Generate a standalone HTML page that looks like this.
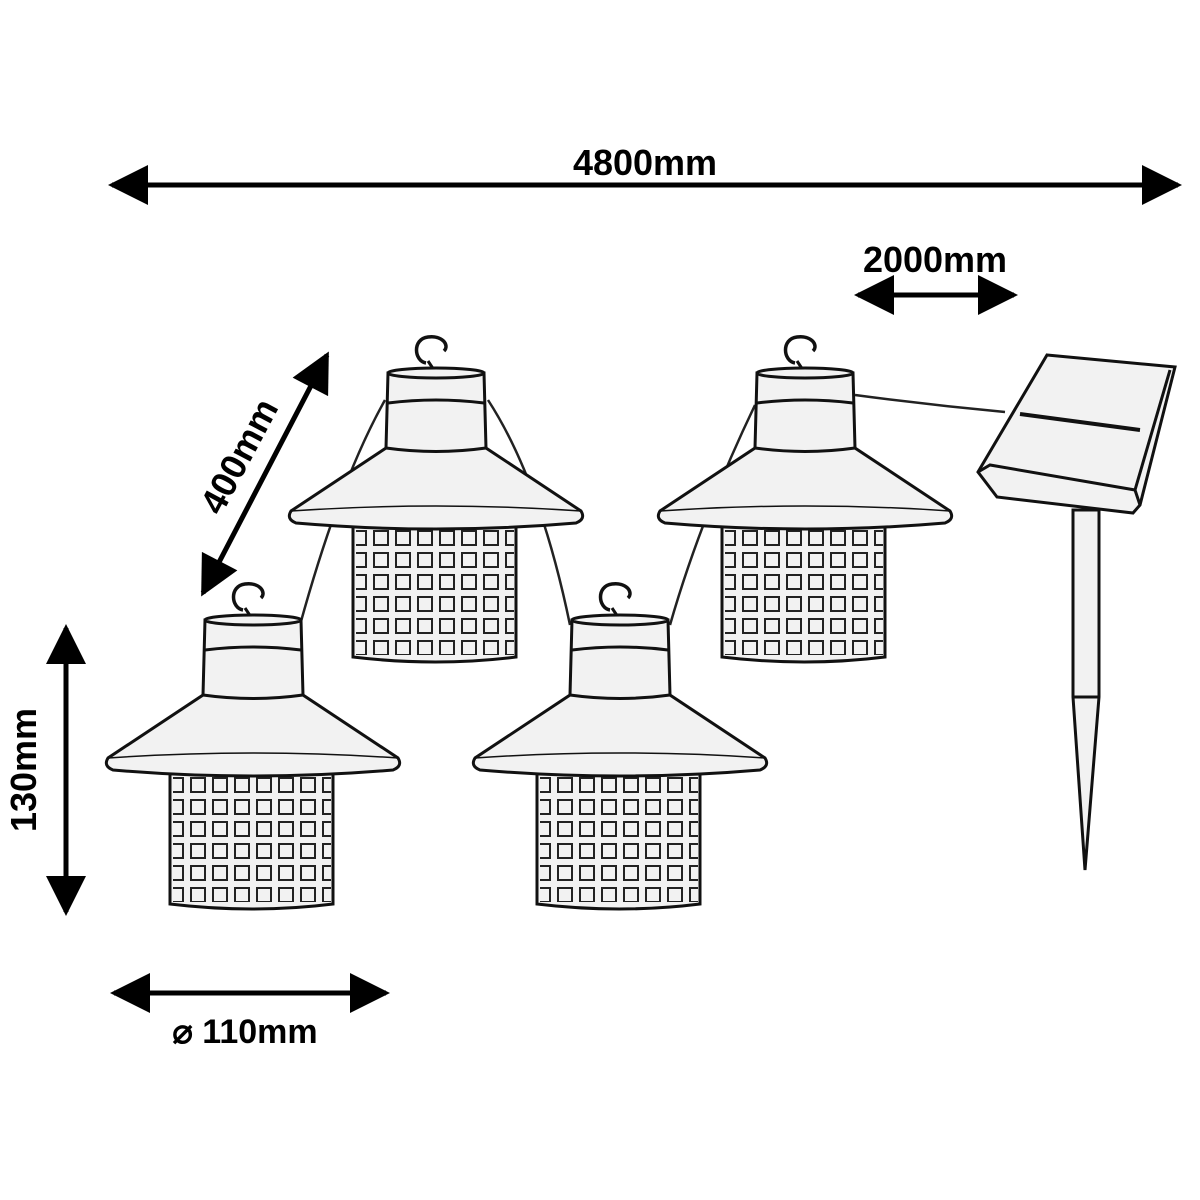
<!DOCTYPE html>
<html><head><meta charset="utf-8"><style>
html,body{margin:0;padding:0;background:#fff}
svg{display:block}
text{font-family:"Liberation Sans",sans-serif;font-weight:bold;fill:#000}
</style></head><body>
<svg width="1200" height="1200" viewBox="0 0 1200 1200" xmlns="http://www.w3.org/2000/svg">
<defs>
<pattern id="grid" x="0" y="0" width="22" height="22" patternUnits="userSpaceOnUse">
<rect x="4" y="4" width="14" height="14" fill="none" stroke="#222" stroke-width="2"/>
</pattern>
<g id="lan" stroke="#111" stroke-width="3" fill="#f2f2f2">
<path d="M-10,-10 C-22,-12 -24,-34 -8,-36 C6,-38 14,-28 8,-22" fill="none" stroke-width="3.5"/>
<line x1="-8" y1="-12" x2="0" y2="0" stroke-width="3"/>
<path d="M-83,128 L-83,284 Q0,294 80,284 L80,128 Z"/>
<rect x="-80" y="150" width="158" height="132" fill="url(#grid)" stroke="none"/>
<path d="M-48,0 L-50,75 L-145,138 Q-150,146 -140,150 Q0,162 140,150 Q150,146 145,138 L50,75 L48,0 Z"/>
<ellipse cx="0" cy="0" rx="48" ry="5"/>
<path d="M-48,30 Q0,24 48,30" fill="none"/>
<path d="M-50,75 Q0,82 50,75" fill="none"/>
<path d="M-145,138 Q0,128 145,138" fill="none" stroke-width="1.5"/>
</g>
<marker id="ah" viewBox="0 0 10 10" refX="9" refY="5" markerWidth="9" markerHeight="8" orient="auto-start-reverse" markerUnits="strokeWidth">
<path d="M0,0 L10,5 L0,10 Z" fill="#000"/>
</marker>
</defs>

<g stroke="#222" stroke-width="2.5" fill="none">
<path d="M385,400 Q340,480 300,625"/>
<path d="M488,400 Q540,480 570,625"/>
<path d="M670,625 Q700,520 755,405"/>
<path d="M855,395 Q930,405 1005,412"/>
</g>

<use href="#lan" x="253" y="620"/>
<use href="#lan" x="436" y="373"/>
<use href="#lan" x="620" y="620"/>
<use href="#lan" x="805" y="373"/>

<g stroke="#111" stroke-width="3" fill="#f2f2f2">
<path d="M1073,510 L1073,697 L1085,870 L1099,697 L1099,510 Z"/>
<line x1="1073" y1="697" x2="1099" y2="697"/>
<path d="M1047,355 L1175,367 L1140,505 L1133,513 L997,497 L978,472 Z"/>
<path d="M978,472 L990,465 L1135,490 L1140,505" fill="none"/>
<path d="M1135,490 L1170,370" fill="none"/>
<line x1="1020" y1="414" x2="1140" y2="430" stroke-width="4"/>
</g>

<g stroke="#000" stroke-width="5" fill="none">
<line x1="112" y1="185" x2="1178" y2="185" marker-start="url(#ah)" marker-end="url(#ah)"/>
<line x1="858" y1="295" x2="1014" y2="295" marker-start="url(#ah)" marker-end="url(#ah)"/>
<line x1="327" y1="355" x2="203" y2="593" marker-start="url(#ah)" marker-end="url(#ah)"/>
<line x1="66" y1="628" x2="66" y2="912" marker-start="url(#ah)" marker-end="url(#ah)"/>
<line x1="114" y1="993" x2="386" y2="993" marker-start="url(#ah)" marker-end="url(#ah)"/>
</g>
<text x="645" y="175" font-size="36" text-anchor="middle">4800mm</text>
<text x="935" y="272" font-size="36" text-anchor="middle">2000mm</text>
<text x="0" y="0" font-size="36" text-anchor="middle" transform="translate(250,462) rotate(-62)">400mm</text>
<text x="0" y="0" font-size="36" text-anchor="middle" transform="translate(36,770) rotate(-90)">130mm</text>
<text x="245" y="1043" font-size="34" text-anchor="middle">⌀ 110mm</text>
</svg>
</body></html>
